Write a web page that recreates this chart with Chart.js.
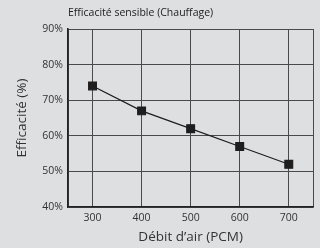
<!DOCTYPE html>
<html>
<head>
<meta charset="utf-8">
<script src="https://cdn.jsdelivr.net/npm/chart.js@4"></script>
<style>
  html, body { margin: 0; padding: 0; background: #dedfe0; }
  #wrap { width: 320px; height: 248px; }
</style>
</head>
<body>
<div id="wrap"><canvas id="effGraph" width="320" height="248"></canvas></div>
<script>
// Débit d'air (PCM) et efficacité (%)
const airflow = [300, 400, 500, 600, 700];
const efficiency = [74, 67, 62, 57, 52];
const xTicks = [250, 300, 400, 500, 600, 700, 750];
const yTicks = [40, 50, 60, 70, 80, 90];

const fontFam = '"Open Sans", "Noto Sans", sans-serif';
const gridCol = '#4a4a4a';

const ctx = document.getElementById('effGraph').getContext('2d');
new Chart(ctx, {
    type: 'line',
    data: {
        datasets: [{
            data: airflow.map((x, i) => ({ x: x, y: efficiency[i] })),
            borderColor: '#1e1e1e',
            borderWidth: 1.2,
            pointStyle: 'rect',
            pointRadius: 5.5,
            pointBackgroundColor: '#1e1e1e',
            pointBorderColor: '#1e1e1e',
            tension: 0
        }]
    },
    options: {
        responsive: false,
        animation: false,
        layout: { padding: { top: 0, right: 3, left: 0, bottom: 0 } },
        plugins: {
            legend: { display: false },
            tooltip: { enabled: false },
            title: {
                display: true,
                text: 'Efficacité sensible (Chauffage)',
                align: 'start',
                fullSize: false,
                color: '#222',
                font: { family: fontFam, size: 10.5, weight: 'normal' },
                padding: { top: 7, bottom: 9.4 }
            }
        },
        scales: {
            x: {
                type: 'linear',
                min: 250,
                max: 750,
                afterBuildTicks: s => { s.ticks = xTicks.map(v => ({ value: v })); },
                afterFit: s => { s.height = 41; },
                grid: { color: gridCol, lineWidth: 1, drawTicks: false },
                border: { color: '#222', width: 1.6 },
                ticks: {
                    color: '#333',
                    padding: 5,
                    font: { family: fontFam, size: 10.5 },
                    callback: v => (v === 250 || v === 750) ? '' : v
                },
                title: {
                    display: true,
                    text: 'Débit d’air (PCM)',
                    color: '#333',
                    font: { family: fontFam, size: 13.5 },
                    padding: { top: 0, bottom: 3 }
                }
            },
            y: {
                min: 40,
                max: 90,
                afterBuildTicks: s => { s.ticks = yTicks.map(v => ({ value: v })); },
                afterFit: s => { s.width = 68; },
                grid: { color: gridCol, lineWidth: 1, drawTicks: false },
                border: { color: '#222', width: 1.6 },
                ticks: {
                    color: '#333',
                    padding: 5,
                    font: { family: fontFam, size: 10.5 },
                    callback: v => v + '%'
                },
                title: {
                    display: true,
                    text: 'Efficacité (%)',
                    color: '#333',
                    font: { family: fontFam, size: 13.5 },
                    padding: { top: 14, bottom: 0 }
                }
            }
        }
    }
});
</script>
</body>
</html>
